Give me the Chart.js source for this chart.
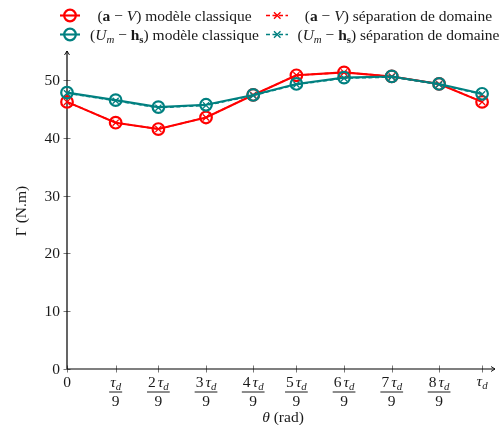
<!DOCTYPE html>
<html>
<head>
<meta charset="utf-8">
<script src="https://cdn.jsdelivr.net/npm/chart.js@4/dist/chart.umd.min.js"></script>
<style>
  html, body { margin: 0; padding: 0; background: #fff; }
  canvas { display: block; }
</style>
</head>
<body>
<canvas id="torque" width="503" height="425"></canvas>
<script>
// Rotor position, expressed in steps of tau_d / 9
const thetaSteps = [0, 1.055, 1.981, 3.014, 4.037, 4.974, 6.007, 7.041, 8.068, 9];
// Tick multiples of tau_d / 9 shown on the horizontal axis
const xTickMultiples = [0, 1, 2, 3, 4, 5, 6, 7, 8, 9];
const yTickValues = [0, 10, 20, 30, 40, 50];

// Torque (N.m)
const torqueAV_classique   = [46.2, 42.6, 41.5, 43.5, 47.4, 50.8, 51.3, 50.6, 49.3, 46.2];
const torqueAV_separation  = [46.2, 42.6, 41.5, 43.5, 47.4, 50.8, 51.3, 50.6, 49.3, 46.2];
const torqueUH_classique   = [47.8, 46.5, 45.3, 45.7, 47.4, 49.3, 50.4, 50.6, 49.3, 47.6];
const torqueUH_separation  = [47.7, 46.4, 45.2, 45.6, 47.3, 49.2, 50.3, 50.5, 49.2, 47.5];

const RED = '#ff0000';
const TEAL = '#008080';
const SERIF = '"Liberation Serif", "DejaVu Serif", serif';
const TXT = '#1a1a1a';

function fontOf(style, size) {
  return (style && style.includes('i') ? 'italic ' : '') +
         (style && style.includes('b') ? 'bold ' : '') + size + 'px ' + SERIF;
}
function partSize(p, size) { return p.sub ? size * 0.7 : size; }
function measureRuns(ctx, parts, size) {
  let w = 0;
  for (const p of parts) {
    ctx.font = fontOf(p.s, partSize(p, size));
    w += ctx.measureText(p.t).width + (p.gap || 0);
  }
  return w;
}
function drawRuns(ctx, parts, x, baseline, size) {
  ctx.textBaseline = 'alphabetic';
  ctx.textAlign = 'left';
  for (const p of parts) {
    ctx.font = fontOf(p.s, partSize(p, size));
    ctx.fillText(p.t, x, p.sub ? baseline + size * 0.22 : baseline);
    x += ctx.measureText(p.t).width + (p.gap || 0);
  }
}
function drawRunsCentered(ctx, parts, cx, baseline, size) {
  const w = measureRuns(ctx, parts, size);
  drawRuns(ctx, parts, cx - w / 2, baseline, size);
  return w;
}

const tauD = [{ t: 'τ', s: 'i' }, { t: 'd', s: 'i', sub: true }];

function makeSeries(label, data, color, classic) {
  return {
    label,
    data: thetaSteps.map((x, i) => ({ x, y: data[i] })),
    borderColor: color,
    backgroundColor: 'rgba(255,255,255,0)',
    borderWidth: classic ? 2.1 : 1.6,
    borderDash: classic ? [] : [4, 2.5],
    pointStyle: classic ? 'circle' : 'crossRot',
    pointRadius: classic ? 5.8 : 4.3,
    pointBorderWidth: classic ? 2.2 : 1.3,
    pointBackgroundColor: 'rgba(255,255,255,0)',
    pointBorderColor: color,
    tension: 0,
    clip: false
  };
}

const axesAndText = {
  id: 'axesAndText',
  beforeDatasetsDraw(chart) {
    const { ctx, chartArea: a, scales: { x, y } } = chart;
    ctx.save();
    const x0 = x.getPixelForValue(0);
    const y0 = y.getPixelForValue(0);

    // tick marks crossing the axes
    ctx.strokeStyle = '#555';
    ctx.lineWidth = 0.8;
    ctx.beginPath();
    for (const v of yTickValues) {
      const py = Math.round(y.getPixelForValue(v)) + 0.5;
      ctx.moveTo(x0 - 3.5, py); ctx.lineTo(x0 + 3.5, py);
    }
    for (const k of xTickMultiples) {
      const px = Math.round(x.getPixelForValue(thetaSteps[k])) + 0.5;
      ctx.moveTo(px, y0 - 3.5); ctx.lineTo(px, y0 + 3.5);
    }
    ctx.stroke();

    // axis lines with arrow heads
    ctx.strokeStyle = '#000';
    ctx.lineWidth = 1.2;
    ctx.beginPath();
    ctx.moveTo(x0, y0); ctx.lineTo(a.right, y0);
    ctx.moveTo(x0, y0); ctx.lineTo(x0, a.top);
    ctx.stroke();
    ctx.lineWidth = 0.9;
    ctx.beginPath();
    ctx.moveTo(a.right - 4, y0 - 2.5); ctx.lineTo(a.right, y0); ctx.lineTo(a.right - 4, y0 + 2.5);
    ctx.moveTo(x0 - 2.5, a.top + 4); ctx.lineTo(x0, a.top); ctx.lineTo(x0 + 2.5, a.top + 4);
    ctx.stroke();

    ctx.fillStyle = TXT;
    // y tick labels
    ctx.font = fontOf('', 15.5);
    ctx.textAlign = 'right';
    ctx.textBaseline = 'middle';
    for (const v of yTickValues) {
      ctx.fillText(String(v), x0 - 7, y.getPixelForValue(v) + 1);
    }

    // x tick labels: fractions of tau_d
    const numBase = y0 + 18;
    for (const k of xTickMultiples) {
      const px = x.getPixelForValue(thetaSteps[k]);
      if (k === 0) {
        drawRunsCentered(ctx, [{ t: '0' }], px, numBase, 15.5);
      } else if (k === 9) {
        drawRunsCentered(ctx, tauD, px, numBase - 1, 15.5);
      } else {
        const num = (k === 1 ? [] : [{ t: String(k), gap: 2 }]).concat(tauD);
        const w = drawRunsCentered(ctx, num, px, numBase, 15.5);
        ctx.fillRect(px - w / 2 - 1, y0 + 22.5, w + 2, 1);
        drawRunsCentered(ctx, [{ t: '9' }], px, y0 + 37, 15.5);
      }
    }

    // axis titles
    drawRunsCentered(ctx, [{ t: 'θ', s: 'i' }, { t: ' (rad)' }], 283, 422, 15.5);
    ctx.save();
    ctx.translate(26, 211);
    ctx.rotate(-Math.PI / 2);
    drawRunsCentered(ctx, [{ t: 'Γ (N.m)' }], 0, 0, 15.5);
    ctx.restore();

    ctx.restore();
  },
  afterDraw(chart) {
    const { ctx } = chart;
    ctx.save();
    const rows = [
      { base: 20.5, cy: 15.5, color: RED,
        head: [{ t: '(' }, { t: 'a', s: 'b' }, { t: ' − ' }, { t: 'V', s: 'i' }, { t: ')' }] },
      { base: 39.5, cy: 34.5, color: TEAL,
        head: [{ t: '(' }, { t: 'U', s: 'i' }, { t: 'm', s: 'i', sub: true }, { t: ' − ' },
               { t: 'h', s: 'b' }, { t: 's', s: 'b', sub: true }, { t: ')' }] }
    ];
    for (const r of rows) {
      // classic model key: line through open circle
      ctx.strokeStyle = r.color;
      ctx.lineWidth = 2.1;
      ctx.setLineDash([]);
      ctx.beginPath();
      ctx.moveTo(60, r.cy); ctx.lineTo(80, r.cy);
      ctx.stroke();
      ctx.lineWidth = 2.2;
      ctx.beginPath();
      ctx.arc(70, r.cy, 5.8, 0, Math.PI * 2);
      ctx.stroke();
      // domain separation key: dashed line with cross
      ctx.lineWidth = 1.6;
      ctx.setLineDash([4, 2.5]);
      ctx.beginPath();
      ctx.moveTo(266, r.cy); ctx.lineTo(288, r.cy);
      ctx.stroke();
      ctx.setLineDash([]);
      ctx.lineWidth = 1.4;
      ctx.beginPath();
      ctx.moveTo(274, r.cy - 3.2); ctx.lineTo(280.5, r.cy + 3.2);
      ctx.moveTo(280.5, r.cy - 3.2); ctx.lineTo(274, r.cy + 3.2);
      ctx.stroke();

      ctx.fillStyle = TXT;
      drawRunsCentered(ctx, r.head.concat([{ t: ' modèle classique' }]), 174.5, r.base, 15.5);
      drawRunsCentered(ctx, r.head.concat([{ t: ' séparation de domaine' }]), 398.5, r.base, 15.5);
    }
    ctx.restore();
  }
};

new Chart(document.getElementById('torque'), {
  type: 'line',
  data: {
    datasets: [
      Object.assign(makeSeries('(a − V) modèle classique', torqueAV_classique, RED, true), { order: 4 }),
      Object.assign(makeSeries('(a − V) séparation de domaine', torqueAV_separation, RED, false), { order: 3 }),
      Object.assign(makeSeries('(Um − hs) modèle classique', torqueUH_classique, TEAL, true), { order: 2 }),
      Object.assign(makeSeries('(Um − hs) séparation de domaine', torqueUH_separation, TEAL, false), { order: 1 })
    ]
  },
  options: {
    responsive: false,
    animation: false,
    events: [],
    layout: { padding: { left: 67, right: 5, top: 51, bottom: 56 } },
    scales: {
      x: { type: 'linear', min: 0, max: 9.28, display: false },
      y: { type: 'linear', min: 0, max: 55, display: false }
    },
    plugins: {
      legend: { display: false },
      tooltip: { enabled: false }
    }
  },
  plugins: [axesAndText]
});
</script>
</body>
</html>
